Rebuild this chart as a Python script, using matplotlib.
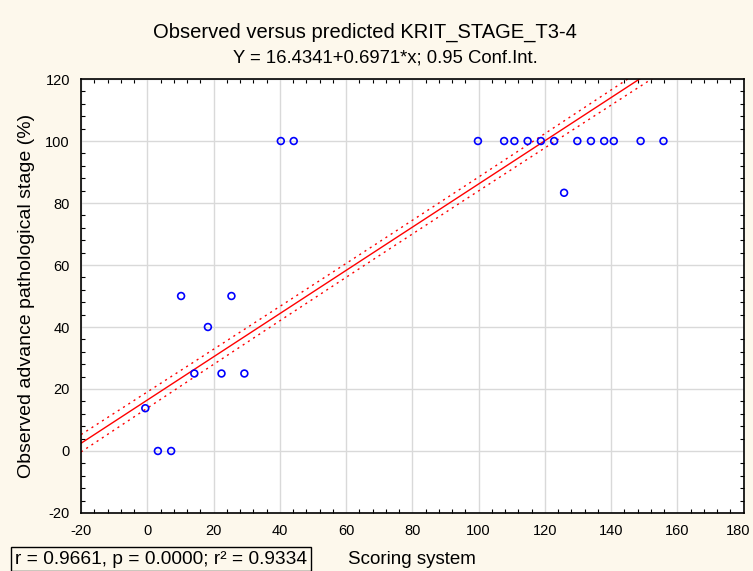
import matplotlib.pyplot as plt
from matplotlib.ticker import MultipleLocator
from matplotlib.transforms import ScaledTranslation
import numpy as np

plt.rcParams['font.family'] = ['Liberation Sans', 'DejaVu Sans']
plt.rcParams['axes.unicode_minus'] = False

# scoring system (x) vs observed advanced pathological stage (y)
score = [-0.6, 3.2, 7.2, 10.2, 14.2, 18.3, 22.4, 25.4, 29.3, 40.3, 44.2,
         99.8, 107.7, 110.8, 114.8, 118.8, 122.8, 125.8, 129.8, 133.9,
         137.9, 140.8, 148.9, 155.8]
observed = [13.8, 0, 0, 50, 25, 40, 25, 50, 25, 100, 100,
            100, 100, 100, 100, 100, 100, 83.3, 100, 100,
            100, 100, 100, 100]

intercept = 16.4341
slope = 0.6971
stats_text = 'r = 0.9661, p = 0.0000; r² = 0.9334'

# 0.95 conf. band: half-width at the centre and its growth
band_half = 2.2
band_centre = 80
band_scale = 127

xs = np.linspace(-20, 180, 300)
yfit = intercept + slope * xs
half = band_half * np.sqrt(1 + ((xs - band_centre) / band_scale) ** 2)

bg = '#fdf8ec'
fig = plt.figure(figsize=(7.53, 5.71), dpi=100, facecolor=bg)
ax = fig.add_axes([0.1076, 0.1016, 0.8800, 0.7600])
ax.set_facecolor('white')

ax.plot(xs, yfit, color='red', linewidth=1)
ax.plot(xs, yfit + half, color='red', linewidth=1, linestyle=(0, (1.5, 3)))
ax.plot(xs, yfit - half, color='red', linewidth=1, linestyle=(0, (1.5, 3)))
ax.scatter(score, observed, s=24, facecolors='none', edgecolors='blue', linewidths=1.2, zorder=3)

ax.set_xlim(-20, 180)
ax.set_ylim(-20, 120)
ax.xaxis.set_major_locator(MultipleLocator(20))
ax.yaxis.set_major_locator(MultipleLocator(20))
ax.xaxis.set_minor_locator(MultipleLocator(4))
ax.yaxis.set_minor_locator(MultipleLocator(4))
ax.tick_params(which='both', direction='in', top=True, right=True, labelsize=10.5)
ax.tick_params(which='major', length=0, pad=8)
ax.tick_params(which='minor', length=3, width=0.8)
ax.grid(True, which='major', color='#d9d9d9', linewidth=1)
ax.set_axisbelow(True)
for sp in ax.spines.values():
    sp.set_linewidth(1.2)

ax.set_ylabel('Observed advance pathological stage (%)', fontsize=14)
ax.yaxis.set_label_coords(-0.07, 0.5)

fig.text(0.484, 0.944, 'Observed versus predicted KRIT_STAGE_T3-4', fontsize=14.5, ha='center', va='center')
fig.text(0.512, 0.898, 'Y = 16.4341+0.6971*x; 0.95 Conf.Int.', fontsize=13.3, ha='center', va='center')
fig.text(0.462, 0.021, 'Scoring system', fontsize=13.5, va='center')
fig.text(0.02, 0.021, stats_text, fontsize=13.8, va='center',
         bbox=dict(boxstyle='square,pad=0.2', facecolor=bg, edgecolor='black', linewidth=1))

# nudge the "180" label so it stays inside the figure edge
fig.canvas.draw()
for lbl in ax.get_xticklabels():
    if lbl.get_text() == '180':
        lbl.set_transform(lbl.get_transform() + ScaledTranslation(-4 / 72, 0, fig.dpi_scale_trans))

fig.savefig('out.png', dpi=100, facecolor=bg)
